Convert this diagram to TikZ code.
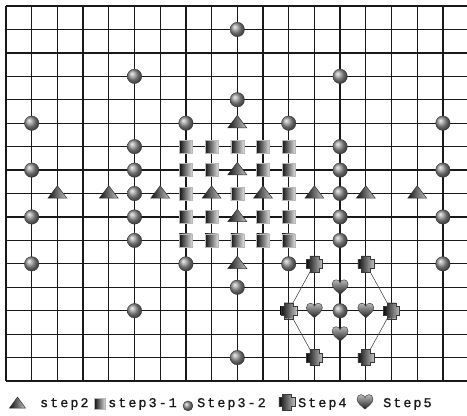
\documentclass[tikz,border=0pt]{standalone}
\usepackage{fontspec}
\newfontfamily\legendfont[LetterSpace=15,FakeBold=0.8]{Liberation Mono}
\usetikzlibrary{shapes.geometric}

\tikzset{
  gridline/.style={line width=1.3bp, black!90},
  ball/.style={circle, inner sep=0pt, minimum size=14.5bp, ball color=gray!85, draw=gray!35!black, line width=0.3bp},
  box/.style={rectangle, inner sep=0pt, minimum size=13bp, left color=gray!15!black, right color=gray!25, draw=gray!55, line width=0.6bp},
  tri/.style={isosceles triangle, isosceles triangle stretches, shape border rotate=90, inner sep=0pt, minimum width=19bp, minimum height=12.5bp, left color=gray!15!black, right color=gray!45, draw=black!80, line width=0.5bp},
  hexline/.style={line width=0.5bp, black!80},
  keytext/.style={anchor=west, inner sep=0pt, font=\legendfont\fontsize{13.5}{16}\selectfont, text=black!90},
  plusmark/.pic={
    \path[left color=gray!10!black, right color=gray!50, draw=gray!45!black, line width=0.4bp]
      (-4.5bp,8bp) -- (4.5bp,8bp) -- (4.5bp,4.5bp) -- (8bp,4.5bp) -- (8bp,-4.5bp) -- (4.5bp,-4.5bp)
      -- (4.5bp,-8bp) -- (-4.5bp,-8bp) -- (-4.5bp,-4.5bp) -- (-8bp,-4.5bp) -- (-8bp,4.5bp) -- (-4.5bp,4.5bp) -- cycle;
  },
  heartmark/.pic={
    \path[top color=gray!55, bottom color=gray!25!black, draw=gray!35!black, line width=0.4bp]
      (0,-7bp) .. controls (-3bp,-4bp) and (-8bp,-1bp) .. (-8bp,3bp)
      .. controls (-8bp,6bp) and (-6bp,7.5bp) .. (-4bp,7.5bp)
      .. controls (-2bp,7.5bp) and (0,6bp) .. (0,4.5bp)
      .. controls (0,6bp) and (2bp,7.5bp) .. (4bp,7.5bp)
      .. controls (6bp,7.5bp) and (8bp,6bp) .. (8bp,3bp)
      .. controls (8bp,-1bp) and (3bp,-4bp) .. (0,-7bp) -- cycle;
  }
}

\begin{document}
\begin{tikzpicture}[x=25.7bp, y=-23.44bp]
  \useasboundingbox (-0.2335,-0.256) rectangle (17.9377,17.4915);

  \foreach \i in {0,...,17} \draw[gridline] (\i,0) -- (\i,16);
  \foreach \j in {0,...,16} \draw[gridline] (0,\j) -- (17.9377,\j);

  % step4 frame
  \coordinate (p1) at (12,11);
  \coordinate (p2) at (14,11);
  \coordinate (p3) at (11,13);
  \coordinate (p4) at (15,13);
  \coordinate (p5) at (12,15);
  \coordinate (p6) at (14,15);
  \draw[hexline] (p1) -- (p3) -- (p5);
  \draw[hexline] (p2) -- (p4) -- (p6);

  \foreach \i/\j in {9/1,5/3,13/3,9/4,7/5,11/5,1/5,17/5,1/7,1/9,1/11,17/7,17/9,17/11,7/11,11/11,9/12,9/15,5/13,13/13}
    \node[ball] (c-\i-\j) at (\i,\j) {};
  \foreach \j in {6,...,10} {
    \node[ball] (c-5-\j) at (5,\j) {};
    \node[ball] (c-13-\j) at (13,\j) {};
  }

  \foreach \i/\j in {7/6,8/6,9/6,10/6,11/6,7/7,8/7,10/7,11/7,7/8,9/8,11/8,7/9,8/9,10/9,11/9,7/10,8/10,9/10,10/10,11/10}
    \node[box] (s-\i-\j) at (\i,\j) {};

  \foreach \i/\j in {2/8,4/8,6/8,8/8,10/8,12/8,14/8,16/8,9/5,9/7,9/9,9/11}
    \node[tri] (t-\i-\j) at (\i,\j) {};

  \foreach \p in {p1,p2,p3,p4,p5,p6} \pic at (\p) {plusmark};

  \coordinate (h1) at (13,12);
  \coordinate (h2) at (12,13);
  \coordinate (h3) at (14,13);
  \coordinate (h4) at (13,14);
  \foreach \h in {h1,h2,h3,h4} \pic at (\h) {heartmark};

  % legend
  \node[tri, minimum width=16bp, minimum height=11bp] (k-tri) at (0.447,16.98) {};
  \node[keytext] (k-tri-t) at (1.32,16.98) {step2};
  \node[box, minimum size=11bp] (k-box) at (3.658,16.98) {};
  \node[keytext] (k-box-t) at (3.97,16.98) {step3-1};
  \node[ball, minimum size=10bp] (k-ball) at (7.08,17.06) {};
  \node[keytext] (k-ball-t) at (7.43,16.98) {Step3-2};
  \coordinate (k-plus) at (10.93,16.9);
  \pic at (k-plus) {plusmark};
  \node[keytext] (k-plus-t) at (11.36,16.98) {Step4};
  \coordinate (k-heart) at (13.97,16.9);
  \pic at (k-heart) {heartmark};
  \node[keytext] (k-heart-t) at (14.67,16.98) {Step5};
\end{tikzpicture}
\end{document}
